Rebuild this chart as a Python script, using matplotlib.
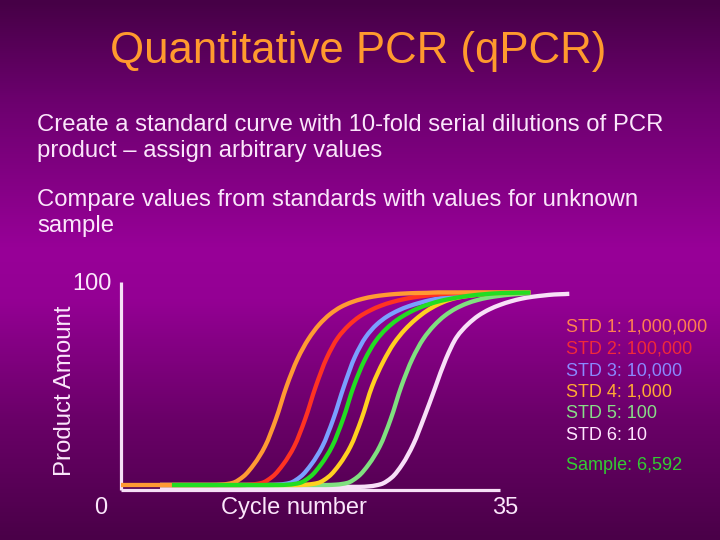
import numpy as np
import matplotlib
matplotlib.use("Agg")
import matplotlib.pyplot as plt
from matplotlib.colors import LinearSegmentedColormap
from matplotlib.path import Path
from matplotlib.patches import PathPatch

plt.rcParams['font.family'] = ['Liberation Sans', 'DejaVu Sans']

# ---------------- data ----------------
title = "Quantitative PCR (qPCR)"
bullets = ["Create a standard curve with 10-fold serial dilutions of PCR\nproduct \u2013 assign arbitrary values",
           "Compare values from standards with values for unknown\nsample"]

series_names = ["STD 1: 1,000,000", "STD 2: 100,000", "STD 3: 10,000",
                "STD 4: 1,000", "STD 5: 100", "STD 6: 10", "Sample: 6,592"]

# cycle number vs product amount (0-100)
std1_x = [0, 8.3, 9.3, 10.3, 11.3, 12.3, 13.3, 14.3, 15.3, 16.3, 17.3, 18.3, 19.3,
          20.3, 21.3, 22.3, 23.3, 24.3, 25.3, 26.3, 27.3, 28.3, 29.3, 37.8]
std1_y = [2.4, 2.4, 2.6, 3.4, 6.5, 12.5, 21, 34, 50, 63, 72.5, 79.5, 84.5,
          88, 90.3, 91.9, 93.0, 93.7, 94.2, 94.5, 94.7, 94.8, 95, 95]

std2_x = [3.6, 11.0, 12.0, 13.0, 14.0, 15.0, 16.0, 17.0, 18.0, 19.0, 20.0, 21.0, 22.0,
          23.0, 24.0, 25.0, 26.0, 27.0, 28.0, 29.0, 30.0, 31.0, 32.0, 37.8]
std2_y = [2.4, 2.4, 2.6, 3.4, 6.5, 12.5, 21, 34, 50, 63.5, 73, 79, 83.3,
          86.3, 88.6, 90.3, 91.6, 92.6, 93.3, 93.9, 94.3, 94.6, 94.8, 95]

std3_x = [3.6, 13.6, 14.6, 15.6, 16.6, 17.6, 18.6, 19.6, 20.6, 21.6, 22.6, 23.6, 24.6,
          25.6, 26.6, 27.6, 28.6, 29.6, 30.6, 31.6, 32.6, 33.6, 34.6, 37.8]
std3_y = [2.4, 2.4, 2.6, 3.4, 6.5, 12.5, 21, 34, 50, 64, 73.5, 79.5, 83.5,
          86.3, 88.4, 90, 91.3, 92.3, 93.1, 93.7, 94.2, 94.5, 94.7, 94.9]

std4_x = [3.6, 16.2, 17.2, 18.2, 19.2, 20.2, 21.2, 22.2, 23.2, 24.2, 25.2, 26.2, 27.2,
          28.2, 29.2, 30.2, 31.2, 32.2, 33.2, 34.2, 35.2, 36.2, 37.2, 37.8]
std4_y = [2.4, 2.4, 2.6, 3.4, 6.5, 12.5, 21, 34, 50, 61.5, 70.5, 77, 82,
          86, 89, 91.2, 92.6, 93.4, 94, 94.4, 94.6, 94.7, 94.8, 94.9]

std5_x = [3.6, 18.9, 19.9, 20.9, 21.9, 22.9, 23.9, 24.9, 25.9, 26.9, 27.9, 28.9, 29.9,
          30.9, 31.9, 32.9, 33.9, 34.9, 35.9, 36.9, 37.8]
std5_y = [2.4, 2.4, 2.6, 3.4, 6.5, 12.5, 21, 34, 50, 63, 72.5, 79, 83.8,
          87.2, 89.6, 91.3, 92.5, 93.3, 93.9, 94.3, 94.6]

std6_x = [3.6, 22.0, 23.0, 24.0, 25.0, 26.0, 27.0, 28.0, 29.0, 30.0, 31.0, 32.0, 33.0,
          34.0, 35.0, 36.0, 37.0, 38.0, 39.0, 40.0, 41.0, 41.4]
std6_y = [1.5, 1.5, 1.8, 2.8, 6, 12.5, 22, 35, 49, 63, 73.5, 79.5, 83.8,
          86.8, 89, 90.7, 92, 92.9, 93.5, 94, 94.2, 94.3]

sample_x = [4.7, 14.5, 15.5, 16.5, 17.5, 18.5, 19.5, 20.5, 21.5, 22.5, 23.5, 24.5, 25.5,
            26.5, 27.5, 28.5, 29.5, 30.5, 31.5, 32.5, 33.5, 34.5, 35.5, 37.8]
sample_y = [2.4, 2.4, 2.6, 3.4, 6.5, 12.5, 21, 34, 50, 62.5, 71.5, 77.5, 81.8,
            85, 87.5, 89.4, 90.9, 92.0, 92.9, 93.6, 94.1, 94.5, 94.7, 94.9]

x_labels = ["0", "Cycle number", "35"]
y_labels = ["100", "Product Amount"]

# ---------------- styling ----------------
curve_colors = ["#ff9a33", "#ff3322", "#7aa0ff", "#ffd020", "#80e080", "#f8e0f8", "#22dd22"]
legend_colors = ["#ff8050", "#f02a3a", "#8a88ff", "#ffaa33", "#88dd88", "#ffe6ff", "#33cc33"]
text_white = "#fbe6fb"
axis_color = "#f6e0f6"

W, H = 720, 540
fig = plt.figure(figsize=(7.2, 5.4), dpi=100)

# background gradient
bg = fig.add_axes([0, 0, 1, 1], zorder=-10)
bg.set_axis_off()
stops = [(0.0, "#460046"), (100 / 540, "#6c006e"), (250 / 540, "#980098"),
         (300 / 540, "#940094"), (420 / 540, "#6a0068"), (1.0, "#4a0048")]
cmap = LinearSegmentedColormap.from_list("bg", stops)
grad = np.linspace(0, 1, 540).reshape(-1, 1)
bg.imshow(grad, aspect="auto", cmap=cmap, extent=[0, 1, 1, 0])
bg.set_xlim(0, 1)
bg.set_ylim(1, 0)


def fx(px):
    return px / W


def fy(py):
    return 1 - py / H


# title and bullet text
fig.text(fx(358), fy(51), title, color="#ff9a2e", fontsize=31.5, ha="center", va="center")
fig.text(fx(37), fy(138), bullets[0], color=text_white, fontsize=17.2, ha="left", va="center",
         linespacing=1.22)
fig.text(fx(37), fy(213), bullets[1], color=text_white, fontsize=17.2, ha="left", va="center",
         linespacing=1.22)

# chart axes: x 0..35 cycles -> px 121..500 ; y 0..100 -> px 490..282
PX_PER_CYCLE = (500 - 121) / 35.0
XMAX = 41.5
ax = fig.add_axes([fx(121), fy(490), fx(121 + XMAX * PX_PER_CYCLE) - fx(121), fy(282) - fy(490)])
ax.patch.set_alpha(0)
ax.set_xlim(0, XMAX)
ax.set_ylim(0, 100)
for s in ["top", "right"]:
    ax.spines[s].set_visible(False)
for s in ["left", "bottom"]:
    ax.spines[s].set_color(axis_color)
    ax.spines[s].set_linewidth(2.3)
    ax.spines[s].set_capstyle("butt")
ax.spines["bottom"].set_bounds(0, 35)
ax.set_xticks([])
ax.set_yticks([])


def smooth_path(x, y):
    """Monotone cubic Bezier path through the read points (flat ends)."""
    x = np.asarray(x, float)
    y = np.asarray(y, float)
    h = np.diff(x)
    d = np.diff(y) / h
    n = len(x)
    m = np.zeros(n)
    for i in range(1, n - 1):
        if d[i - 1] * d[i] > 0:
            w1 = 2 * h[i] + h[i - 1]
            w2 = h[i] + 2 * h[i - 1]
            m[i] = (w1 + w2) / (w1 / d[i - 1] + w2 / d[i])
    verts = [(x[0], y[0])]
    codes = [Path.MOVETO]
    for i in range(n - 1):
        verts += [(x[i] + h[i] / 3, y[i] + m[i] * h[i] / 3),
                  (x[i + 1] - h[i] / 3, y[i + 1] - m[i + 1] * h[i] / 3),
                  (x[i + 1], y[i + 1])]
        codes += [Path.CURVE4] * 3
    return Path(verts, codes)


xs = [std6_x, std5_x, std4_x, std3_x, std2_x, std1_x, sample_x]
ys = [std6_y, std5_y, std4_y, std3_y, std2_y, std1_y, sample_y]
cols = [curve_colors[5], curve_colors[4], curve_colors[3], curve_colors[2],
        curve_colors[1], curve_colors[0], curve_colors[6]]
for i, (x, y, c) in enumerate(zip(xs, ys, cols)):
    patch = PathPatch(smooth_path(x, y), facecolor="none", edgecolor=c, lw=3.1,
                      capstyle="butt", joinstyle="round", zorder=3 + i,
                      transform=ax.transData, clip_on=False)
    ax.add_patch(patch)

# axis labels as slide text
fig.text(fx(112), fy(284), y_labels[0], color=text_white, fontsize=17, ha="right", va="center")
fig.text(fx(65), fy(391), y_labels[1], color=text_white, fontsize=17.3, ha="center", va="center",
         rotation=90)
fig.text(fx(101), fy(508), x_labels[0], color=text_white, fontsize=17, ha="center", va="center")
fig.text(fx(294), fy(508), x_labels[1], color=text_white, fontsize=17, ha="center", va="center")
fig.text(fx(505), fy(508), x_labels[2], color=text_white, fontsize=17, ha="center", va="center")

# legend text
leg_y = [327, 349, 371, 392, 414, 436, 466]
for name, c, yy in zip(series_names, legend_colors, leg_y):
    fig.text(fx(566), fy(yy), name, color=c, fontsize=13, ha="left", va="center")

fig.savefig("out.png", dpi=100)
